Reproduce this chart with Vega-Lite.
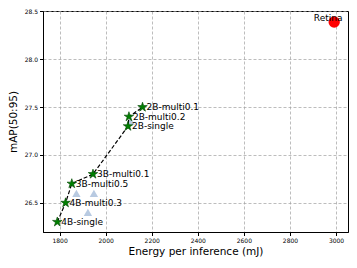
{
  "$schema": "https://vega.github.io/schema/vega-lite/v6.json",
  "width": 305,
  "height": 221,
  "autosize": "none",
  "padding": {"left": 43, "top": 11, "right": 9, "bottom": 36},
  "config": {
    "font": "DejaVu Sans",
    "view": {"stroke": "black", "strokeWidth": 1},
    "axis": {
      "domainColor": "black",
      "tickColor": "black",
      "tickSize": 3.5,
      "labelFontSize": 6,
      "labelColor": "black",
      "labelFont": "DejaVu Sans",
      "titleFont": "DejaVu Sans",
      "titleFontSize": 10.5,
      "titleFontWeight": "normal",
      "titleColor": "black",
      "gridColor": "#a0a0a0",
      "gridDash": [3, 2],
      "gridWidth": 0.7,
      "labelPadding": 2
    }
  },
  "data": {
    "values": [
      {"model": "4B-single", "energy": 1790, "map": 26.3, "kind": "pareto"},
      {"model": "4B-multi0.3", "energy": 1826, "map": 26.5, "kind": "pareto"},
      {"model": "3B-multi0.5", "energy": 1853, "map": 26.7, "kind": "pareto"},
      {"model": "3B-multi0.1", "energy": 1945, "map": 26.8, "kind": "pareto"},
      {"model": "2B-single", "energy": 2097, "map": 27.3, "kind": "pareto"},
      {"model": "2B-multi0.2", "energy": 2101, "map": 27.4, "kind": "pareto"},
      {"model": "2B-multi0.1", "energy": 2160, "map": 27.5, "kind": "pareto"},
      {"model": "", "energy": 1873, "map": 26.6, "kind": "other"},
      {"model": "", "energy": 1949, "map": 26.6, "kind": "other"},
      {"model": "", "energy": 1923, "map": 26.4, "kind": "other"},
      {"model": "", "energy": 2109, "map": 27.35, "kind": "other"},
      {"model": "Retina", "energy": 2992, "map": 28.39, "kind": "retina"}
    ]
  },
  "encoding": {
    "x": {
      "field": "energy", "type": "quantitative",
      "scale": {"domain": [1728, 3052], "nice": false, "zero": false},
      "axis": {"values": [1800, 2000, 2200, 2400, 2600, 2800, 3000], "format": "d", "title": "Energy per inference (mJ)", "titlePadding": 3, "orient": "bottom"}
    },
    "y": {
      "field": "map", "type": "quantitative",
      "scale": {"domain": [26.195, 28.505], "nice": false, "zero": false},
      "axis": {"values": [26.5, 27.0, 27.5, 28.0, 28.5], "format": ".1f", "title": "mAP(50:95)", "titlePadding": 6, "orient": "left"}
    }
  },
  "layer": [
    {
      "transform": [{"filter": "datum.kind == 'other'"}],
      "mark": {"type": "point", "shape": "triangle-up", "filled": true, "color": "#b0c4de", "opacity": 0.9, "size": 70}
    },
    {
      "transform": [{"filter": "datum.kind == 'pareto'"}],
      "mark": {"type": "line", "color": "black", "strokeDash": [4, 2], "strokeWidth": 1.2}
    },
    {
      "transform": [{"filter": "datum.kind == 'pareto'"}],
      "mark": {"type": "point", "shape": "M0,-1L0.223,-0.307L0.951,-0.309L0.361,0.117L0.588,0.809L0,0.38L-0.588,0.809L-0.361,0.117L-0.951,-0.309L-0.223,-0.307Z", "filled": true, "fill": "#008000", "stroke": "#004400", "strokeWidth": 0.6, "opacity": 1, "size": 100}
    },
    {
      "transform": [{"filter": "datum.kind == 'retina'"}],
      "mark": {"type": "point", "shape": "circle", "filled": true, "color": "red", "opacity": 1, "size": 130}
    },
    {
      "transform": [{"filter": "datum.kind == 'pareto'"}],
      "mark": {"type": "text", "align": "left", "baseline": "middle", "dx": 4, "fontSize": 9, "color": "black"},
      "encoding": {"text": {"field": "model"}}
    },
    {
      "transform": [{"filter": "datum.kind == 'retina'"}],
      "mark": {"type": "text", "align": "center", "baseline": "alphabetic", "dx": -6, "dy": -1, "fontSize": 9, "color": "black"},
      "encoding": {"text": {"field": "model"}}
    }
  ]
}
